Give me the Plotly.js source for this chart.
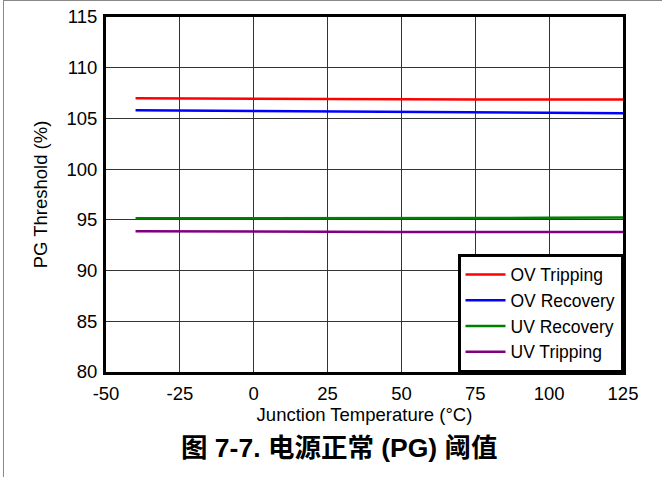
<!DOCTYPE html>
<html><head><meta charset="utf-8">
<script src="https://cdn.plot.ly/plotly-3.0.1.min.js"></script>
<style>
html,body{margin:0;padding:0;background:#fff;}
#frame{position:absolute;left:3px;top:0;width:659px;height:477px;border-left:1px solid #888;border-top:1px solid #888;box-sizing:border-box;pointer-events:none;}
#chart{position:absolute;left:0;top:0;width:662px;height:477px;}
</style></head>
<body>
<div id="chart"></div>
<div id="frame"></div>
<script>
const temps = [-40, -25, 0, 25, 50, 75, 100, 125];
const ovTripping = [107.0, 106.98, 106.92, 106.88, 106.87, 106.86, 106.86, 106.86];
const ovRecovery = [105.8, 105.78, 105.72, 105.66, 105.62, 105.6, 105.55, 105.52];
const uvRecovery = [95.15, 95.15, 95.15, 95.16, 95.17, 95.18, 95.2, 95.23];
const uvTripping = [93.88, 93.86, 93.82, 93.8, 93.8, 93.8, 93.8, 93.8];
const seriesNames = ['OV Tripping', 'OV Recovery', 'UV Recovery', 'UV Tripping'];
const seriesColors = ['#ff0000', '#0000ff', '#008000', '#800080'];
const xTicks = [-50, -25, 0, 25, 50, 75, 100, 125];
const yTicks = [80, 85, 90, 95, 100, 105, 110, 115];

const font = 'Liberation Sans, Arial, sans-serif';
const fs = 18.5;
const ys = [ovTripping, ovRecovery, uvRecovery, uvTripping];
const traces = ys.map((y, i) => ({
  x: temps, y: y, type: 'scatter', mode: 'lines', name: seriesNames[i],
  line: {color: seriesColors[i], width: 2.5}
}));

const layout = {
  width: 662, height: 477,
  margin: {l: 106, r: 39, t: 17, b: 105},
  paper_bgcolor: '#fff', plot_bgcolor: '#fff',
  font: {family: font, size: fs, color: '#000'},
  showlegend: true,
  legend: {
    x: 1, y: 0, xanchor: 'right', yanchor: 'bottom',
    bgcolor: '#fff', bordercolor: '#000', borderwidth: 2.5,
    font: {family: font, size: 17.5, color: '#000'},
    tracegroupgap: 0, itemwidth: 40
  },
  xaxis: {
    range: [-50, 125], tickvals: xTicks, ticktext: xTicks.map(String),
    showgrid: true, gridcolor: '#333', gridwidth: 1,
    zeroline: false, showline: true, linecolor: '#000', linewidth: 3, mirror: true,
    ticks: '', ticklen: 0, ticklabelstandoff: 3,
    tickfont: {family: font, size: fs, color: '#000'},
    title: {text: 'Junction Temperature (°C)', font: {family: font, size: fs, color: '#000'}, standoff: 2}
  },
  yaxis: {
    range: [80, 115], tickvals: yTicks, ticktext: yTicks.map(String),
    showgrid: true, gridcolor: '#333', gridwidth: 1,
    zeroline: false, showline: true, linecolor: '#000', linewidth: 3, mirror: true,
    ticks: '', ticklen: 0, ticklabelstandoff: 2,
    tickfont: {family: font, size: fs, color: '#000'},
    title: {text: 'PG Threshold (%)', font: {family: font, size: fs, color: '#000'}, standoff: 14}
  },
  annotations: [{
    text: '<b>图 7-7. 电源正常 (PG) 阈值</b>',
    xref: 'paper', yref: 'paper', x: 0.451, y: -0.166, xanchor: 'center', yanchor: 'top',
    showarrow: false,
    font: {family: 'Liberation Sans, Noto Sans CJK SC, sans-serif', size: 26.5, color: '#000'}
  }]
};

Plotly.newPlot('chart', traces, layout, {displayModeBar: false, staticPlot: true});
</script>
</body></html>
